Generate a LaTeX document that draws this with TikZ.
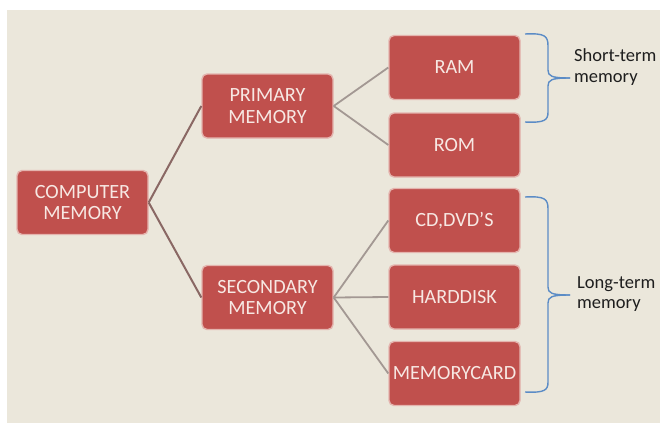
\documentclass[tikz,border=0pt]{standalone}
\usepackage{fontspec}
\setmainfont{Carlito}
\definecolor{bg}{HTML}{EBE7DB}
\definecolor{boxfill}{HTML}{C0504D}
\definecolor{boxedge}{HTML}{E4B4AE}
\definecolor{boxtext}{HTML}{F7E8E3}
\definecolor{linkA}{HTML}{8A6864}
\definecolor{linkB}{HTML}{A39893}
\definecolor{bracecol}{HTML}{5B8CC6}
\definecolor{labeltext}{HTML}{1E1E1E}
\begin{document}
\begin{tikzpicture}[x=1pt,y=1pt,
  membox/.style={rectangle, rounded corners=5pt, fill=boxfill, draw=boxedge, line width=1.4pt,
    minimum width=131pt, minimum height=64pt, inner sep=0pt, align=center,
    text=boxtext, font=\fontsize{20.2}{21.5}\selectfont},
  linkone/.style={draw=linkA, line width=2pt},
  linktwo/.style={draw=linkB, line width=1.8pt},
  bracepath/.style={draw=bracecol, line width=1.4pt},
  sidelabel/.style={anchor=west, align=left, inner sep=0pt, text=labeltext,
    font=\fontsize{18.5}{20.5}\selectfont}]
\useasboundingbox (0,0) rectangle (660,-423);
\fill[white] (0,0) rectangle (660,-423);
\fill[bg] (7,-10) rectangle (660,-423);

\node[membox] (cm) at (82.5,-202.5) {COMPUTER\\MEMORY};
\node[membox] (pm) at (267.5,-106) {PRIMARY\\MEMORY};
\node[membox] (sm) at (267.5,-297.5) {SECONDARY\\MEMORY};
\node[membox] (ram) at (454.5,-67.5) {RAM};
\node[membox] (rom) at (454.5,-145) {ROM};
\node[membox] (cd) at (454.5,-220.5) {CD,DVD’S};
\node[membox] (hd) at (454.5,-297) {HARDDISK};
\node[membox] (mc) at (454.5,-373.5) {MEMORYCARD};

\draw[linkone] (cm.east) -- (pm.west);
\draw[linkone] (cm.east) -- (sm.west);
\draw[linktwo] (pm.east) -- (ram.west);
\draw[linktwo] (pm.east) -- (rom.west);
\draw[linktwo] (sm.east) -- (cd.west);
\draw[linktwo] (sm.east) -- (hd.west);
\draw[linktwo] (sm.east) -- (mc.west);

% short-term brace
\coordinate (sa) at (525,-34);
\coordinate (st) at (570,-78);
\coordinate (sb) at (525,-122);
\draw[bracepath] (sa) .. controls (545,-33) and (548,-36) .. (548,-46) -- (548,-70)
  .. controls (548,-76) and (551,-78) .. (st);
\draw[bracepath] (st) .. controls (551,-78) and (548,-80) .. (548,-86) -- (548,-112)
  .. controls (548,-120) and (545,-123) .. (sb);
% long-term brace
\coordinate (la) at (525,-197);
\coordinate (lt) at (570,-295);
\coordinate (lb) at (525,-392);
\draw[bracepath] (la) .. controls (545,-196) and (548,-199) .. (548,-209) -- (548,-287)
  .. controls (548,-293) and (551,-295) .. (lt);
\draw[bracepath] (lt) .. controls (551,-295) and (548,-297) .. (548,-303) -- (548,-382)
  .. controls (548,-390) and (545,-393) .. (lb);

\node[sidelabel] (stl) at (574,-67) {Short-term\\memory};
\node[sidelabel] (ltl) at (577,-294) {Long-term\\memory};
\end{tikzpicture}
\end{document}
